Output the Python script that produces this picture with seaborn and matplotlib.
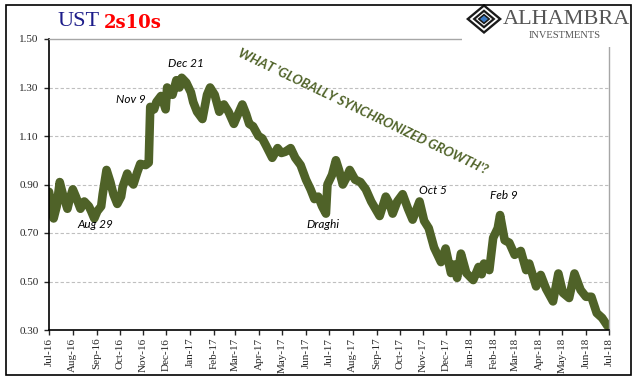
import numpy as np
import pandas as pd
import seaborn as sns
import matplotlib.pyplot as plt
import matplotlib.dates as mdates
from matplotlib.patches import Polygon, Rectangle

# UST 2s10s spread
dates = ["2016-07-01", "2016-07-05", "2016-07-07", "2016-07-11", "2016-07-15", "2016-07-19",
         "2016-07-25", "2016-07-28", "2016-08-01", "2016-08-05", "2016-08-11", "2016-08-16",
         "2016-08-22", "2016-08-25", "2016-08-29", "2016-09-02", "2016-09-07", "2016-09-09",
         "2016-09-14", "2016-09-19", "2016-09-23", "2016-09-28", "2016-10-03", "2016-10-05",
         "2016-10-11", "2016-10-14", "2016-10-19", "2016-10-24", "2016-10-28", "2016-11-04",
         "2016-11-08", "2016-11-10", "2016-11-15", "2016-11-18", "2016-11-24", "2016-11-28",
         "2016-11-30", "2016-12-02", "2016-12-06", "2016-12-09", "2016-12-14", "2016-12-18",
         "2016-12-21", "2016-12-27", "2017-01-02", "2017-01-05", "2017-01-10", "2017-01-17",
         "2017-01-23", "2017-01-27", "2017-02-02", "2017-02-08", "2017-02-14", "2017-02-20",
         "2017-02-27", "2017-03-03", "2017-03-10", "2017-03-15", "2017-03-19", "2017-03-24",
         "2017-03-31", "2017-04-05", "2017-04-10", "2017-04-18", "2017-04-25", "2017-04-30",
         "2017-05-05", "2017-05-12", "2017-05-18", "2017-05-25", "2017-06-01", "2017-06-07",
         "2017-06-12", "2017-06-17", "2017-06-22", "2017-06-27", "2017-06-29", "2017-07-05",
         "2017-07-10", "2017-07-14", "2017-07-19", "2017-07-24", "2017-07-28", "2017-08-04",
         "2017-08-11", "2017-08-18", "2017-08-25", "2017-09-05", "2017-09-13", "2017-09-18",
         "2017-09-22", "2017-09-28", "2017-10-05", "2017-10-12", "2017-10-18", "2017-10-27",
         "2017-11-02", "2017-11-08", "2017-11-15", "2017-11-24", "2017-11-30", "2017-12-07",
         "2017-12-11", "2017-12-15", "2017-12-20", "2017-12-27", "2018-01-05", "2018-01-12",
         "2018-01-16", "2018-01-19", "2018-01-26", "2018-01-31", "2018-02-06", "2018-02-09",
         "2018-02-15", "2018-02-21", "2018-02-28", "2018-03-08", "2018-03-15", "2018-03-19",
         "2018-03-28", "2018-04-03", "2018-04-10", "2018-04-19", "2018-04-26", "2018-05-02",
         "2018-05-10", "2018-05-17", "2018-05-25", "2018-06-01", "2018-06-08", "2018-06-15",
         "2018-06-22", "2018-06-29"]
spread = [0.87, 0.80, 0.76, 0.81, 0.91, 0.86,
          0.80, 0.84, 0.88, 0.85, 0.80, 0.83,
          0.81, 0.79, 0.76, 0.79, 0.81, 0.86,
          0.96, 0.91, 0.86, 0.82, 0.85, 0.89,
          0.945, 0.92, 0.90, 0.95, 0.985, 0.98,
          0.99, 1.22, 1.21, 1.24, 1.265, 1.23,
          1.21, 1.30, 1.28, 1.27, 1.33, 1.30,
          1.34, 1.32, 1.28, 1.24, 1.20, 1.17,
          1.27, 1.30, 1.27, 1.20, 1.23, 1.20,
          1.15, 1.18, 1.23, 1.19, 1.15, 1.14,
          1.10, 1.09, 1.06, 1.01, 1.05, 1.03,
          1.035, 1.05, 1.01, 0.98, 0.92, 0.88,
          0.84, 0.85, 0.81, 0.78, 0.90, 0.94,
          1.00, 0.96, 0.90, 0.93, 0.96, 0.92,
          0.91, 0.88, 0.83, 0.77, 0.85, 0.82,
          0.78, 0.83, 0.86, 0.80, 0.755, 0.83,
          0.75, 0.72, 0.64, 0.58, 0.636, 0.535,
          0.57, 0.515, 0.615, 0.535, 0.506, 0.56,
          0.53, 0.574, 0.547, 0.68, 0.72, 0.774,
          0.67, 0.66, 0.61, 0.626, 0.547, 0.574,
          0.48, 0.527, 0.47, 0.418, 0.533, 0.453,
          0.432, 0.533, 0.465, 0.437, 0.437, 0.37,
          0.35, 0.317]

note_labels = ["Aug 29", "Nov 9", "Dec 21", "Draghi", "Oct 5", "Feb 9"]
callout = "WHAT 'GLOBALLY SYNCHRONIZED GROWTH'?"
yticks = [0.30, 0.50, 0.70, 0.90, 1.10, 1.30, 1.50]

df = pd.DataFrame({"date": pd.to_datetime(dates), "spread": spread})

sns.set_style("white")
plt.rcParams['font.family'] = ['Liberation Serif', 'DejaVu Serif']

olive = "#4F6228"
W, H = 641, 381
fig = plt.figure(figsize=(W / 100, H / 100), dpi=100)
ax = fig.add_axes([49 / W, 1 - 330 / H, 560 / W, 291 / H])

sns.lineplot(data=df, x="date", y="spread", ax=ax, color=olive, linewidth=6.2,
             solid_capstyle="round", solid_joinstyle="round")

ax.set_xlim(pd.Timestamp("2016-07-01"), pd.Timestamp("2018-07-01"))
ax.set_ylim(0.30, 1.50)
ax.set_yticks(yticks)
ax.yaxis.set_major_formatter(plt.FormatStrFormatter("%.2f"))
ax.xaxis.set_major_locator(mdates.MonthLocator())
ax.xaxis.set_major_formatter(mdates.DateFormatter("%b-%y"))
ax.set_xlabel("")
ax.set_ylabel("")
for y in yticks[1:-1]:
    ax.axhline(y, color="#bfbfbf", lw=0.8, ls=(0, (3, 2)), zorder=0)

ax.tick_params(axis="x", labelrotation=90, labelsize=8, length=3.5, width=1, direction="out", bottom=True, pad=2)
ax.tick_params(axis="y", labelsize=8, length=3.5, width=1, direction="out", left=True, pad=4)
for side in ["left", "bottom"]:
    ax.spines[side].set_color("black")
    ax.spines[side].set_linewidth(1.2)
for side in ["top", "right"]:
    ax.spines[side].set_color("#a6a6a6")
    ax.spines[side].set_linewidth(1.0)

# annotations
note_pos = [("2016-08-31", 0.733), ("2016-10-16", 1.249), ("2016-12-27", 1.397),
            ("2017-06-23", 0.737), ("2017-11-13", 0.877), ("2018-02-14", 0.853)]
for lab, (d, v) in zip(note_labels, note_pos):
    ax.text(pd.Timestamp(d), v, lab, ha="center", va="center", fontsize=8.5,
            style="italic", family=["Lato", "DejaVu Sans"], color="black")
ax.text(pd.Timestamp("2017-08-14"), 1.199, callout, ha="center", va="center",
        rotation=-25.5, rotation_mode="anchor", fontsize=9.5, fontweight="bold",
        style="italic", family=["Lato", "DejaVu Sans"], color=olive)

# title
fig.text(58 / W, 1 - 22 / H, "UST", fontsize=16, color="#1c1c8a", va="center", ha="left")
fig.text(104 / W, 1 - 23 / H, "2s10s", fontsize=13, color="#ff0000", fontweight="bold",
         va="center", ha="left", family=["DejaVu Serif"])

# logo block
fig.add_artist(Rectangle((462 / W, 1 - 47 / H), 170 / W, 41 / H, transform=fig.transFigure,
                         facecolor="white", edgecolor="none", zorder=5))
cx, cy, hw, hh = 484, 19, 18, 15
def diamond(s, **kw):
    pts = [((cx - hw * s) / W, 1 - cy / H), (cx / W, 1 - (cy - hh * s) / H),
           ((cx + hw * s) / W, 1 - cy / H), (cx / W, 1 - (cy + hh * s) / H)]
    fig.add_artist(Polygon(pts, closed=True, transform=fig.transFigure, zorder=6, **kw))
diamond(1.0, facecolor="#1a1a1a", edgecolor="none")
diamond(0.72, facecolor="none", edgecolor="white", lw=1.3)
diamond(0.45, facecolor="white", edgecolor="none")
diamond(0.36, facecolor="#1a1a1a", edgecolor="none")
diamond(0.22, facecolor="#3a78c2", edgecolor="none")
fig.text(566 / W, 1 - 20 / H, "ALHAMBRA", fontsize=16, color="#555555", ha="center",
         va="center", zorder=6)
fig.text(565 / W, 1 - 35 / H, "INVESTMENTS", fontsize=7.5, color="#555555", ha="center",
         va="center", zorder=6)

# outer frame
fig.add_artist(Rectangle((6 / W, 1 - 375 / H), 625 / W, 370 / H, transform=fig.transFigure,
                         facecolor="none", edgecolor="black", lw=1.2, zorder=7))

fig.savefig("out.png", dpi=100)
